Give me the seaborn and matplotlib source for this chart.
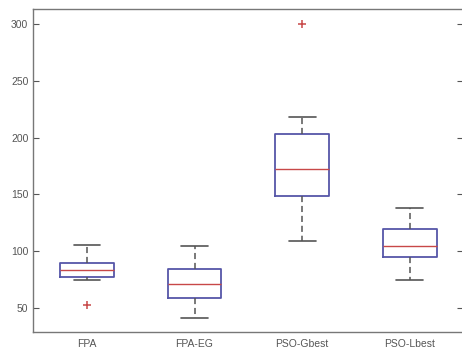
import matplotlib
matplotlib.use("Agg")
import matplotlib.pyplot as plt
import seaborn as sns
import pandas as pd

categories = ["FPA", "FPA-EG", "PSO-Gbest", "PSO-Lbest"]
fpa = [53, 74.6, 77.6, 80, 83.5, 86, 89.3, 100, 105.5]
fpa_eg = [41.5, 50, 59, 65, 70.8, 78, 84, 95, 104.6]
pso_gbest = [109.3, 130, 148.5, 160, 172.4, 190, 203.2, 217.9, 300]
pso_lbest = [75, 85, 94.6, 100, 104.6, 112, 119.3, 130, 137.8]
yticks = [50, 100, 150, 200, 250, 300]

rows = []
for name, vals in zip(categories, [fpa, fpa_eg, pso_gbest, pso_lbest]):
    for v in vals:
        rows.append({"alg": name, "val": v})
df = pd.DataFrame(rows)

sns.set_style("ticks")
plt.rcParams["font.family"] = ["Liberation Sans", "DejaVu Sans"]

fig = plt.figure(figsize=(4.62, 3.53), dpi=100)
ax = fig.add_axes([0.072, 0.060, 0.931, 0.914])

sns.boxplot(data=df, x="alg", y="val", order=categories, ax=ax,
            fill=False, width=0.5, color="#5656a8", linewidth=1.1,
            boxprops=dict(color="#5656a8", linewidth=1.3),
            medianprops=dict(color="#c84848", linewidth=1.0),
            whiskerprops=dict(color="#555555", linestyle=(0, (4, 2.5)), linewidth=1.1),
            capprops=dict(color="#555555", linewidth=1.2),
            flierprops=dict(marker="+", markeredgecolor="#c84848", markersize=5.5,
                            markeredgewidth=1.1, linestyle="none"),
            whis=1.5)

ax.set_xlim(-0.5, 3.5)
ax.set_ylim(29, 313)
ax.set_yticks(yticks)
ax.set_xlabel("")
ax.set_ylabel("")
ax.tick_params(axis="y", direction="in", length=4, width=0.8, color="#555555",
               labelsize=7.5, labelcolor="#555555", left=True, right=True)
ax.tick_params(axis="x", length=0, pad=5, labelsize=7.5, labelcolor="#555555")
for s in ax.spines.values():
    s.set_visible(True)
    s.set_color("#777777")
    s.set_linewidth(1.0)

fig.savefig("out.png", dpi=100)
